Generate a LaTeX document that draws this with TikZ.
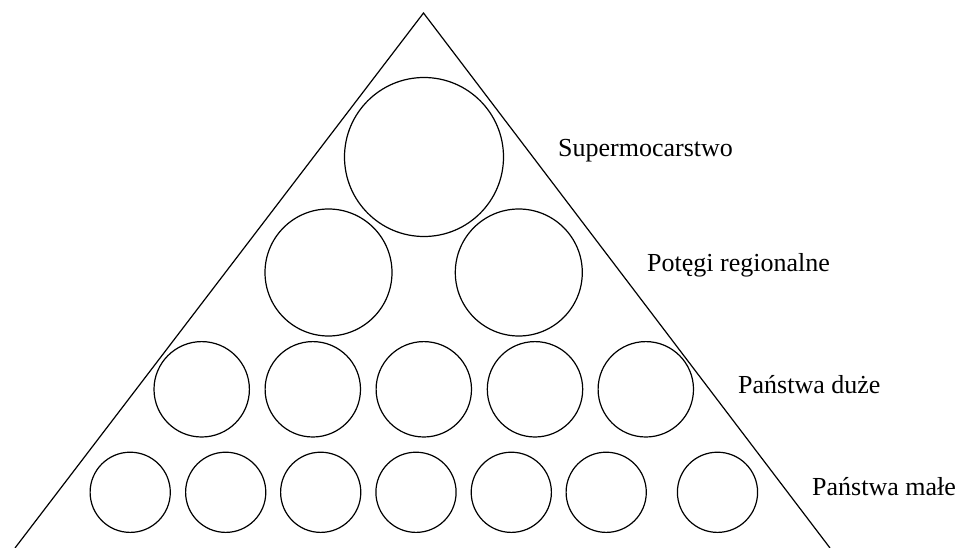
\documentclass[tikz,border=0pt]{standalone}
\usepackage{fontspec}
\setmainfont{Liberation Serif}
\begin{document}
\begin{tikzpicture}[x=1pt,y=-1pt,
  ball/.style={draw, circle, line width=1.2pt, inner sep=0pt, minimum size=#1},
  lbl/.style={anchor=base west, inner sep=0pt, font=\fontsize{26}{30}\selectfont}]
\useasboundingbox (0,0) rectangle (959,548);
% triangle sides
\coordinate (apex) at (423.5,13);
\coordinate (bl) at (15,548);
\coordinate (br) at (830,548);
\draw[line width=1.2pt, line join=miter] (bl) -- (apex) -- (br);
% supermocarstwo
\node[ball=159pt] (s1) at (424,157) {};
% regional
\node[ball=127pt] (r1) at (328.5,272.5) {};
\node[ball=127pt] (r2) at (518.8,272.5) {};
% large
\foreach \x [count=\i] in {201.7,312.8,423.8,535,645.8}
  \node[ball=95.4pt] (d\i) at (\x,389.3) {};
% small
\foreach \x [count=\i] in {130.2,225.7,320.7,416,511.3,606.2,717.5}
  \node[ball=80.2pt] (m\i) at (\x,492.3) {};
% labels
\node[lbl] (t1) at (558,157) {Supermocarstwo};
\node[lbl] (t2) at (647,272) {Potęgi regionalne};
\node[lbl] (t3) at (738,393) {Państwa duże};
\node[lbl] (t4) at (812,495) {Państwa małe};
\end{tikzpicture}
\end{document}
